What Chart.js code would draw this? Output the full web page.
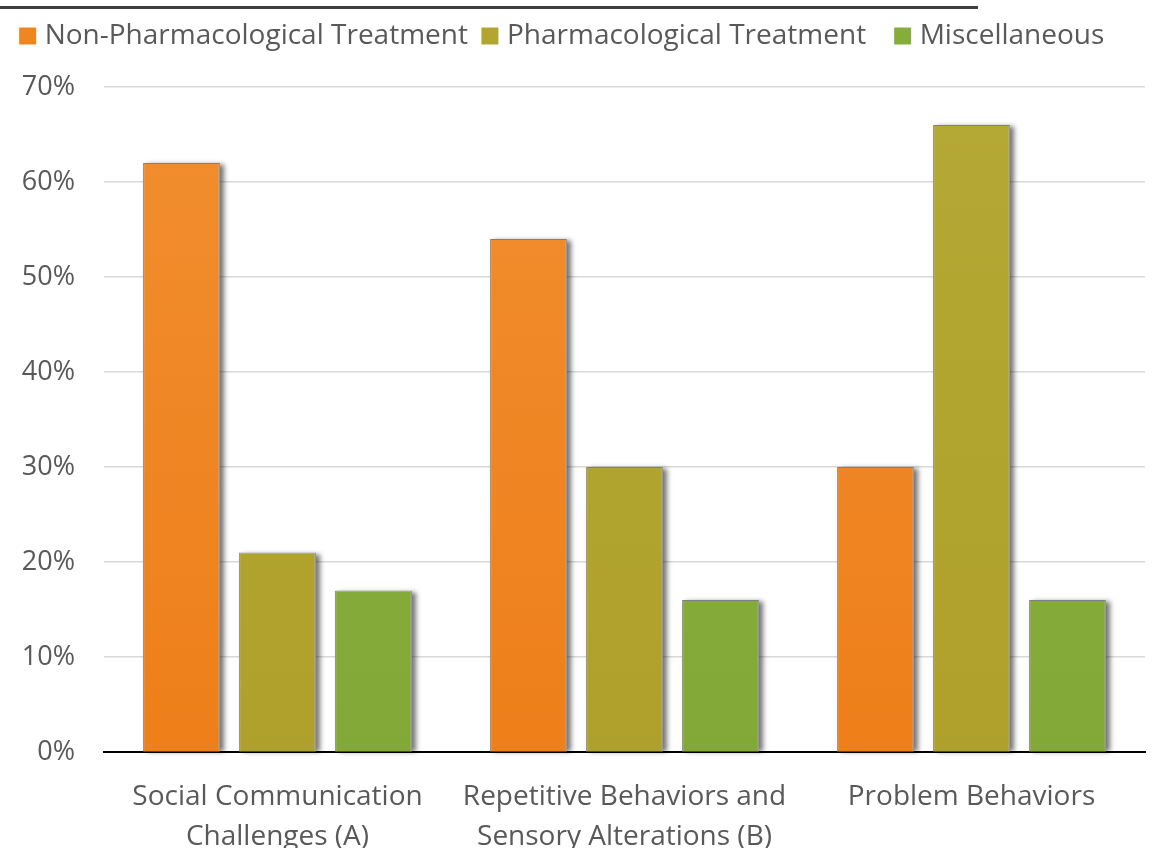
<!DOCTYPE html>
<html>
<head>
<meta charset="utf-8">
<script src="https://cdn.jsdelivr.net/npm/chart.js@4.4.1/dist/chart.umd.min.js"></script>
<style>
  html, body { margin: 0; padding: 0; background: #fff; }
  #wrap { position: relative; width: 1158px; height: 848px; }
</style>
</head>
<body>
<div id="wrap"><canvas id="chart" width="1158" height="848"></canvas></div>
<script>
// chart data
const categories = [
  ['Social Communication', 'Challenges (A)'],
  ['Repetitive Behaviors and', 'Sensory Alterations (B)'],
  'Problem Behaviors'
];
const seriesNames = ['Non-Pharmacological Treatment', 'Pharmacological Treatment', 'Miscellaneous'];
const nonPharmacological = [62, 54, 30];
const pharmacological = [21, 30, 66];
const miscellaneous = [17, 16, 16];
const yTicks = [0, 10, 20, 30, 40, 50, 60, 70];

// colours: flat (legend) + top/bottom of the bar gradient
const flatColors = ['#EF861F', '#B2A630', '#85AD3A'];
const gradColors = [
  ['#F18E30', '#EE7F19'],
  ['#B4A934', '#AEA02B'],
  ['#8BB03F', '#82A937']
];
const textColor = '#595959';
const font = 'Open Sans';

function barFill(i) {
  return (ctx) => {
    const area = ctx.chart.chartArea;
    if (!area) return flatColors[i];
    const g = ctx.chart.ctx.createLinearGradient(0, area.top, 0, area.bottom);
    g.addColorStop(0, gradColors[i][0]);
    g.addColorStop(1, gradColors[i][1]);
    return g;
  };
}

// soft drop shadow behind each bar, painted before the bars themselves
const barShadow = {
  id: 'barShadow',
  beforeDatasetsDraw(chart) {
    const c = chart.ctx;
    c.save();
    c.shadowColor = 'rgba(0,0,0,0.55)';
    c.shadowBlur = 5;
    c.shadowOffsetX = 4;
    c.shadowOffsetY = 1;
    c.fillStyle = '#fff';
    chart.data.datasets.forEach((ds, i) => {
      chart.getDatasetMeta(i).data.forEach(bar => {
        const p = bar.getProps(['x', 'y', 'base', 'width'], true);
        c.fillRect(p.x - p.width / 2, p.y, p.width, p.base - p.y);
      });
    });
    c.restore();
  }
};

// extra room under the legend, and nudge the legend row a little left
const legendTweak = {
  id: 'legendTweak',
  beforeLayout(chart) {
    const lg = chart.legend;
    if (lg && !lg._patched) {
      const fit = lg.fit;
      lg.fit = function () {
        fit.call(this);
        this.height += 27;
      };
      lg._patched = true;
    }
  },
  afterLayout(chart) {
    const lg = chart.legend;
    if (lg) {
      lg.left -= 8;
      lg.right -= 8;
    }
  }
};

// dark rule across the top of the figure
const topRule = {
  id: 'topRule',
  afterDraw(chart) {
    const c = chart.ctx;
    c.save();
    c.strokeStyle = '#3f3f3f';
    c.lineWidth = 3;
    c.beginPath();
    c.moveTo(0, 7.5);
    c.lineTo(978, 7.5);
    c.stroke();
    c.restore();
  }
};

const datasets = [nonPharmacological, pharmacological, miscellaneous].map((values, i) => ({
  label: seriesNames[i],
  data: values,
  backgroundColor: barFill(i),
  borderColor: '#808080',
  borderWidth: 1,
  categoryPercentage: 0.83,
  barPercentage: 0.8
}));

new Chart(document.getElementById('chart'), {
  type: 'bar',
  data: { labels: categories, datasets: datasets },
  plugins: [barShadow, legendTweak, topRule],
  options: {
    responsive: false,
    animation: false,
    devicePixelRatio: 1,
    layout: { padding: { top: 3, right: 13, bottom: -34, left: 0 } },
    plugins: {
      legend: {
        position: 'top',
        labels: {
          font: { family: font, size: 28 },
          color: textColor,
          usePointStyle: true,
          pointStyle: 'rect',
          boxWidth: 6,
          boxHeight: 17,
          padding: 19,
          generateLabels(chart) {
            // the gap after the second entry is wider in the original
            return seriesNames.map((name, i) => ({
              text: i === 1 ? name + '\u00a0\u00a0' : name,
              fillStyle: flatColors[i],
              strokeStyle: flatColors[i],
              fontColor: textColor,
              lineWidth: 0,
              pointStyle: 'rect',
              datasetIndex: i
            }));
          }
        }
      },
      tooltip: { enabled: false }
    },
    scales: {
      x: {
        grid: { display: false, drawTicks: false },
        border: { display: true, color: '#000', width: 2 },
        ticks: {
          color: textColor,
          font: { family: font, size: 28, lineHeight: 40 / 28 },
          padding: 25,
          maxRotation: 0,
          autoSkip: false
        }
      },
      y: {
        min: 0,
        max: 70,
        afterBuildTicks(scale) {
          scale.ticks = yTicks.map(v => ({ value: v }));
        },
        afterFit(scale) {
          scale.width = 104;
        },
        grid: { color: '#d9d9d9', lineWidth: 1.5, drawTicks: false },
        border: { display: false },
        ticks: {
          color: textColor,
          font: { family: font, size: 27 },
          padding: 29,
          callback: v => v + '%'
        }
      }
    }
  }
});
</script>
</body>
</html>
